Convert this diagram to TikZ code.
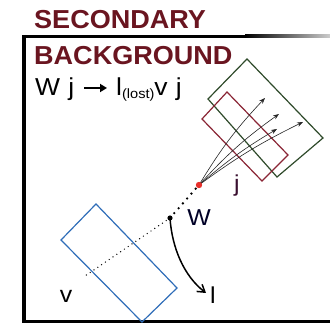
\documentclass[tikz,border=0pt]{standalone}
\usepackage{fontspec}
\setmainfont{Liberation Sans}
\newfontfamily\hdfont[FakeStretch=1.04]{Liberation Sans}
\newfontfamily\fmfont[FakeStretch=1.08]{Liberation Sans}
\usetikzlibrary{arrows.meta}
\definecolor{hdred}{HTML}{6A1520}
\definecolor{boxred}{HTML}{8A2535}
\definecolor{boxgreen}{HTML}{2E4A2A}
\definecolor{boxblue}{HTML}{2F6DB8}
\definecolor{dotred}{HTML}{E8302C}
\definecolor{jcol}{HTML}{3A1030}
\begin{document}
\begin{tikzpicture}[x=1pt,y=-1pt,
  heading/.style={inner sep=0pt,anchor=base west,text=hdred,font=\hdfont\fontsize{26}{28}\selectfont\bfseries},
  formula/.style={inner sep=0pt,anchor=base west,font=\fmfont\fontsize{24.5}{26}\selectfont},
  lbl/.style={inner sep=0pt,font=\fmfont\fontsize{23}{25}\selectfont},
  fan/.style={line width=0.6pt,black!85,-{Stealth[length=6pt,width=4.5pt]}},
  frame/.style={line width=3.5pt,black}]
\useasboundingbox (0,0) rectangle (330,323);
% frame
\draw[frame] (24,36.5) -- (245,36.5);
\shade[left color=black,right color=black!20] (245,35) rectangle (330,38);
\draw[line width=4pt] (24,35) -- (24,323);
\draw[line width=3pt] (22,321.5) -- (330,321.5);
% texts
\node[heading] (sec) at (34,29) {SECONDARY};
\node[heading] (bkg) at (34,65) {BACKGROUND};
\node[formula] (wj) at (35,96) {W\,\,j};
\draw[line width=2pt,-{Triangle[length=7pt,width=8pt]}] (84,88) -- (107,88);
\node[formula] (lv) at (116,96) {l\raisebox{-3pt}{\fontsize{13.5}{13.5}\selectfont(lost)}v\,\,j};
% boxes
\draw[boxgreen,line width=1.2pt] (247,59) -- (323,138) -- (277,177) -- (208,99) -- cycle;
\draw[boxred,line width=1.2pt] (227,92) -- (288,155) -- (262,181) -- (202,119) -- cycle;
\draw[boxblue,line width=1.2pt] (96,204) -- (177,288) -- (142,322) -- (61,240) -- cycle;
% points
\coordinate (rd) at (199,185);
\coordinate (bd) at (170,218);
\coordinate (ve) at (85,276);
\coordinate (le) at (206,293);
\coordinate (t1) at (265,98);
\coordinate (t2) at (279,114);
\coordinate (t3) at (277,129);
\coordinate (t4) at (303,122);
% dotted lines
\draw[line width=2.6pt,line cap=round,dash pattern=on 0pt off 6.5pt] (bd) -- (rd);
\draw[line width=1.4pt,line cap=round,dash pattern=on 0pt off 4.6pt] (bd) -- (ve);
% fan
\draw[fan] (rd) to[bend left=6] (t1);
\draw[fan] (rd) to[bend left=6] (t2);
\draw[fan] (rd) to[bend left=5] (t3);
\draw[fan] (rd) to[bend left=5] (t4);
% curved arrow
\draw[line width=1.5pt,-{Straight Barb[length=7pt,width=9pt]}] (bd) .. controls (172,248) and (184,276) .. (le);
% dots
\fill[dotred] (rd) circle (3.2pt);
\fill[black] (bd) circle (2.6pt);
% labels
\node[lbl,text=jcol] (jl) at (237,186) {j};
\node[lbl,text=black!85!blue] (wl) at (199,218) {W};
\node[lbl] (ll) at (213,295) {l};
\node[lbl] (vl) at (66,296) {v};
\end{tikzpicture}
\end{document}
